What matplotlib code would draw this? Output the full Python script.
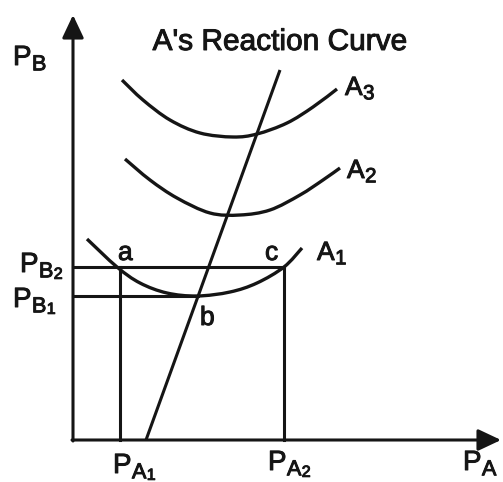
import numpy as np
import matplotlib
matplotlib.use("Agg")
import matplotlib.pyplot as plt
import matplotlib.patheffects as pe
from matplotlib.path import Path
from matplotlib.patches import PathPatch

plt.rcParams['font.family'] = ['Liberation Sans', 'DejaVu Sans']

# price levels (origin at axis crossing)
pa1, pa2 = 47, 211
pb1, pb2 = 144, 173

# A's reaction curve (straight line)
reaction_x = [73, 207]
reaction_y = [0, 370]

# iso-profit curves
a1_x = [14, 44, 67, 94, 124, 157, 184, 211, 229]
a1_y = [201, 173, 157, 147, 144, 148, 157, 173, 192]
a2_x = [52, 77, 104, 137, 167, 197, 227, 250, 267]
a2_y = [281, 260, 242, 227, 225, 230, 245, 260, 272]
a3_x = [49, 70, 97, 127, 160, 184, 214, 240, 264]
a3_y = [360, 340, 320, 307, 303, 306, 317, 333, 351]

ink = '#151515'
heavy = [pe.withStroke(linewidth=0.7, foreground=ink)]


def smooth_path(xs, ys):
    pts = np.column_stack([xs, ys]).astype(float)
    pad = np.vstack([pts[0], pts, pts[-1]])
    verts = [pts[0]]
    codes = [Path.MOVETO]
    for i in range(len(pts) - 1):
        p0, p1, p2, p3 = pad[i], pad[i + 1], pad[i + 2], pad[i + 3]
        verts += [p1 + (p2 - p0) / 6.0, p2 - (p3 - p1) / 6.0, p2]
        codes += [Path.CURVE4] * 3
    return Path(verts, codes)


def label(x, y, main, sub='', subsub='', size=20):
    t = ax.text(x, y, main, fontsize=size, va='baseline', color=ink,
                path_effects=heavy)
    if sub:
        s = ax.annotate(sub, xy=(1, 0), xycoords=t, xytext=(0.3, 0.5),
                        textcoords='offset points', fontsize=size * 0.78,
                        va='baseline', color=ink, path_effects=heavy)
        if subsub:
            ax.annotate(subsub, xy=(1, 0), xycoords=s, xytext=(0.3, 2.5),
                        textcoords='offset points', fontsize=size * 0.58,
                        va='baseline', color=ink, path_effects=heavy)
    return t


fig = plt.figure(figsize=(5.03, 4.82), dpi=100)
ax = fig.add_axes([0, 0, 1, 1])
ax.set_xlim(-73, 430)
ax.set_ylim(-42, 440)
ax.axis('off')

arrow = dict(arrowstyle='-|>,head_length=0.7,head_width=0.33', lw=2.2,
             color=ink, shrinkA=0, shrinkB=0, mutation_scale=20)
ax.annotate('', xy=(0, 425), xytext=(0, -1), arrowprops=arrow)
ax.annotate('', xy=(428, 0), xytext=(-1, 0), arrowprops=arrow)

# guide lines
ax.plot([0, pa2], [pb2, pb2], color=ink, lw=2.2)
ax.plot([0, 125], [pb1, pb1], color=ink, lw=2.2)
ax.plot([pa1, pa1], [0, pb2], color=ink, lw=2.2)
ax.plot([pa2, pa2], [0, pb2], color=ink, lw=2.2)

ax.plot(reaction_x, reaction_y, color=ink, lw=2.2, solid_capstyle='butt')

for xs, ys in [(a1_x, a1_y), (a2_x, a2_y), (a3_x, a3_y)]:
    ax.add_patch(PathPatch(smooth_path(xs, ys), facecolor='none',
                           edgecolor=ink, lw=2.4, capstyle='butt'))

ax.text(207, 390, "A's Reaction Curve", fontsize=21.5, ha='center',
        va='baseline', color=ink, path_effects=heavy)
label(-60, 375, 'P', 'B')
label(-53, 168, 'P', 'B', '2')
label(-60, 133, 'P', 'B', '1')
label(40, -33, 'P', 'A', '1')
label(195, -30, 'P', 'A', '2')
label(390, -30, 'P', 'A')
label(244, 180, 'A', '1', size=19)
label(274, 262, 'A', '2', size=19)
label(272, 345, 'A', '3', size=19)
label(45, 180, 'a', size=19)
label(192, 180, 'c', size=19)
label(127, 115, 'b', size=19)

fig.savefig('out.png', dpi=100)
